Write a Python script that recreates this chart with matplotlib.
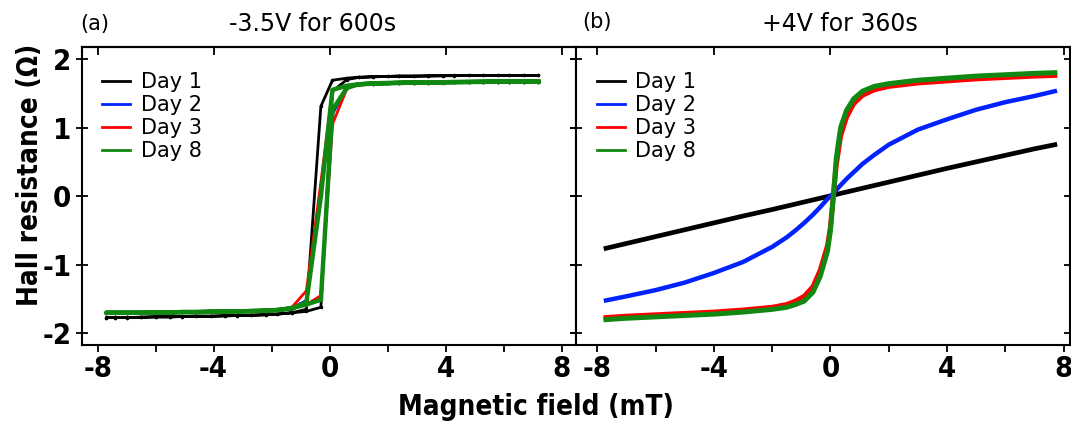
import matplotlib
matplotlib.use("Agg")
import matplotlib.pyplot as plt
from matplotlib.ticker import MultipleLocator

plt.rcParams['axes.unicode_minus'] = False

# ---- panel (a): -3.5V for 600s, hysteresis loops ----
field_a_down = [7.2, 6.7, 6.2, 5.8, 5.3, 4.8, 4.3, 3.9, 3.4, 2.9, 2.4, 2.0, 1.5, 1.0, 0.6, 0.1,
                -0.3, -0.8, -1.3, -1.8, -2.2, -2.7, -3.2, -3.6, -4.1, -4.6, -5.1, -5.5, -6.0,
                -6.5, -7.0, -7.4, -7.7]
field_a_up = field_a_down[::-1]

a_day1_down = [1.76, 1.76, 1.76, 1.76, 1.76, 1.76, 1.755, 1.755, 1.75, 1.75, 1.75, 1.745, 1.74,
               1.735, 1.72, 1.69, 1.31, -1.65, -1.70, -1.72, -1.73, -1.735, -1.74, -1.745, -1.75,
               -1.75, -1.755, -1.76, -1.76, -1.765, -1.77, -1.77, -1.77]
a_day1_up = [-1.77, -1.77, -1.77, -1.765, -1.76, -1.76, -1.755, -1.75, -1.75, -1.745, -1.74,
             -1.735, -1.73, -1.72, -1.70, -1.68, -1.62, 1.53, 1.70, 1.73, 1.74, 1.745, 1.75, 1.75,
             1.755, 1.755, 1.76, 1.76, 1.76, 1.76, 1.76, 1.76, 1.76]

a_day2_down = [1.67, 1.67, 1.67, 1.67, 1.665, 1.665, 1.66, 1.66, 1.655, 1.655, 1.65, 1.645, 1.64,
               1.63, 1.61, 1.55, 0.05, -1.52, -1.63, -1.66, -1.67, -1.675, -1.68, -1.68, -1.685,
               -1.69, -1.69, -1.695, -1.695, -1.70, -1.70, -1.70, -1.70]
a_day2_up = [-1.70, -1.70, -1.70, -1.70, -1.695, -1.695, -1.69, -1.69, -1.685, -1.68, -1.68,
             -1.675, -1.67, -1.66, -1.62, -1.58, -1.49, 1.20, 1.58, 1.63, 1.645, 1.65, 1.655,
             1.655, 1.66, 1.66, 1.665, 1.665, 1.67, 1.67, 1.67, 1.67, 1.67]

a_day3_down = [1.67, 1.67, 1.665, 1.665, 1.665, 1.66, 1.66, 1.655, 1.655, 1.65, 1.65, 1.645, 1.64,
               1.63, 1.60, 1.55, 0.20, -1.38, -1.62, -1.66, -1.67, -1.675, -1.68, -1.68, -1.685,
               -1.69, -1.69, -1.69, -1.695, -1.70, -1.70, -1.70, -1.71]
a_day3_up = [-1.71, -1.70, -1.70, -1.70, -1.695, -1.69, -1.69, -1.69, -1.685, -1.68, -1.68,
             -1.675, -1.67, -1.66, -1.63, -1.58, -1.45, 1.05, 1.57, 1.63, 1.64, 1.645, 1.65,
             1.65, 1.655, 1.655, 1.66, 1.66, 1.665, 1.665, 1.665, 1.67, 1.67]

a_day8_down = [1.67, 1.67, 1.67, 1.67, 1.665, 1.665, 1.66, 1.66, 1.655, 1.655, 1.65, 1.645, 1.64,
               1.63, 1.61, 1.55, 0.0, -1.55, -1.64, -1.66, -1.67, -1.675, -1.68, -1.68, -1.685,
               -1.69, -1.69, -1.695, -1.695, -1.70, -1.70, -1.70, -1.70]
a_day8_up = [-1.70, -1.70, -1.70, -1.70, -1.695, -1.695, -1.69, -1.69, -1.685, -1.68, -1.68,
             -1.675, -1.67, -1.66, -1.63, -1.58, -1.51, 1.26, 1.58, 1.63, 1.645, 1.65, 1.655,
             1.655, 1.66, 1.66, 1.665, 1.665, 1.67, 1.67, 1.67, 1.67, 1.67]

# ---- panel (b): +4V for 360s ----
field_b = [-7.7, -7, -6, -5, -4, -3, -2, -1.5, -1.2, -0.9, -0.6, -0.35, -0.1, 0, 0.1, 0.2,
           0.35, 0.55, 0.8, 1.1, 1.5, 2, 3, 4, 5, 6, 7, 7.7]
b_day1 = [-0.76, -0.69, -0.59, -0.49, -0.39, -0.29, -0.195, -0.145, -0.115, -0.085, -0.055,
          -0.03, -0.005, 0.005, 0.015, 0.025, 0.04, 0.06, 0.085, 0.115, 0.155, 0.205, 0.305,
          0.405, 0.50, 0.595, 0.69, 0.75]
b_day2 = [-1.52, -1.46, -1.37, -1.26, -1.12, -0.96, -0.74, -0.60, -0.50, -0.39, -0.27, -0.16,
          -0.04, 0.0, 0.04, 0.09, 0.16, 0.25, 0.35, 0.47, 0.60, 0.75, 0.97, 1.12, 1.26, 1.37,
          1.46, 1.53]
b_day3 = [-1.77, -1.75, -1.73, -1.71, -1.69, -1.66, -1.62, -1.58, -1.53, -1.46, -1.32, -1.08,
          -0.72, -0.45, 0.0, 0.45, 0.88, 1.15, 1.35, 1.47, 1.55, 1.60, 1.65, 1.68, 1.71, 1.73,
          1.75, 1.76]
b_day8 = [-1.80, -1.78, -1.76, -1.74, -1.72, -1.69, -1.65, -1.62, -1.58, -1.53, -1.40, -1.17,
          -0.80, -0.50, 0.0, 0.55, 1.00, 1.25, 1.42, 1.53, 1.60, 1.64, 1.69, 1.72, 1.75, 1.77,
          1.79, 1.80]

labels = ['Day 1', 'Day 2', 'Day 3', 'Day 8']
colors = ['black', '#0022ff', '#ff0000', '#118811']

tick_font = {'family': 'DejaVu Sans', 'stretch': 'condensed', 'weight': 'bold', 'size': 21}
label_font = {'family': 'DejaVu Sans', 'stretch': 'condensed', 'weight': 'bold', 'size': 20}

fig = plt.figure(figsize=(10.71, 4.24), dpi=100)
ax1 = fig.add_axes([81.7 / 1071, 79 / 424, 494.3 / 1071, 297.7 / 424])
ax2 = fig.add_axes([576 / 1071, 79 / 424, 494 / 1071, 297.7 / 424])

# panel (a)
loops = [(a_day1_down, a_day1_up), (a_day2_down, a_day2_up),
         (a_day3_down, a_day3_up), (a_day8_down, a_day8_up)]
widths_a = [2.0, 2.0, 2.0, 3.2]
for (down, up), c, lab, lw in zip(loops, colors, labels, widths_a):
    ax1.plot(field_a_down + field_a_up, down + up, color=c, lw=lw, marker='.',
             ms=3, label=lab)

# panel (b)
widths_b = [3.4, 3.2, 3.6, 3.6]
for vals, c, lab, lw in zip([b_day1, b_day2, b_day3, b_day8], colors, labels, widths_b):
    ax2.plot(field_b, vals, color=c, lw=lw, label=lab)

ax1.set_xlim(-8.55, 8.5)
ax2.set_xlim(-8.73, 8.22)
for ax in (ax1, ax2):
    ax.set_ylim(-2.17, 2.17)
    for s in ax.spines.values():
        s.set_linewidth(1.5)
    ax.xaxis.set_major_locator(MultipleLocator(4))
    ax.xaxis.set_minor_locator(MultipleLocator(2))
    ax.yaxis.set_major_locator(MultipleLocator(1))
    ax.tick_params(axis='x', which='both', direction='out', length=5, width=1.3,
                   top=False, pad=2)
    ax.tick_params(axis='y', which='both', direction='inout', length=8, width=1.3,
                   right=True)
    sec = ax.secondary_xaxis('top')
    sec.xaxis.set_major_locator(MultipleLocator(4))
    sec.tick_params(direction='in', length=6, width=1.3, labeltop=False)
    sec.spines['top'].set_linewidth(1.5)
    leg = ax.legend(loc='upper left', frameon=False, fontsize=15, handlelength=1.35,
                    handletextpad=0.5, labelspacing=0.15, borderaxespad=0.35,
                    bbox_to_anchor=(0.01, 0.97))
    for h in leg.get_lines():
        h.set_linewidth(2)
        h.set_marker('')

ax1.set_xticks([-8, -4, 0, 4, 8])
ax1.set_xticklabels(['-8', '-4', '0', '4', '8'], fontdict=tick_font)
ax1.set_yticks([-2, -1, 0, 1, 2])
ax1.set_yticklabels(['-2', '-1', '0', '1', '2'], fontdict=tick_font)
ax2.set_xticks([-8, -4, 0, 4, 8])
ax2.set_xticklabels(['-8', '-4', '0', '4', '8'], fontdict=tick_font)
ax2.tick_params(axis='y', labelleft=False)

fig.text(536 / 1071, 1 - 407 / 424, 'Magnetic field (mT)', ha='center', va='center',
         fontdict=label_font)
fig.text(30 / 1071, 1 - 175 / 424, 'Hall resistance (\u03a9)', ha='center', va='center',
         rotation=90, fontdict=label_font)

fig.text(80 / 1071, 1 - 24 / 424, '(a)', ha='left', va='center', fontsize=15)
fig.text(313 / 1071, 1 - 24 / 424, '-3.5V for 600s', ha='center', va='center', fontsize=17)
fig.text(582 / 1071, 1 - 22 / 424, '(b)', ha='left', va='center', fontsize=15)
fig.text(840 / 1071, 1 - 24 / 424, '+4V for 360s', ha='center', va='center', fontsize=17)

fig.savefig('out.png', dpi=100)
